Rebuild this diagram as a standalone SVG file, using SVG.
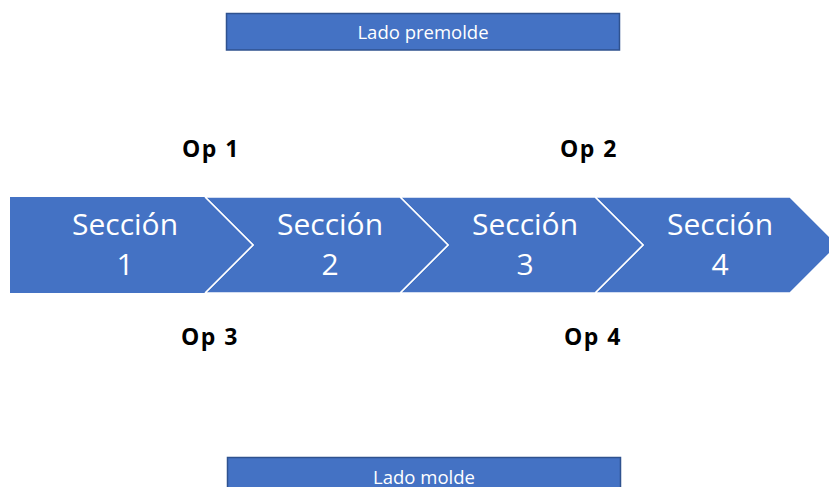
<svg xmlns="http://www.w3.org/2000/svg" width="829" height="487" viewBox="0 0 829 487">
<style>
.box{fill:#4472C4;stroke:#2F528F;stroke-width:1.5}
.chev{fill:#4472C4;stroke:#FFFFFF;stroke-width:1.5}
.lbl{font-family:"Open Sans","Liberation Sans",sans-serif;fill:#FFFFFF;text-anchor:middle}
.sec{font-size:30px}
.side{font-size:18.5px}
.op{font-family:"Open Sans","Liberation Sans",sans-serif;font-weight:bold;font-size:23px;letter-spacing:1.5px;fill:#000000;text-anchor:middle}
</style>
<rect width="829" height="487" fill="#FFFFFF"/>
<g id="top-box">
<rect class="box" x="226.5" y="13.5" width="393" height="36.5"/>
<text class="lbl side" x="423" y="38.5">Lado premolde</text>
</g>
<g id="bottom-box">
<rect class="box" x="227.5" y="457.5" width="393" height="40"/>
<text class="lbl side" x="424" y="483.5">Lado molde</text>
</g>
<g id="sec4">
<polygon class="chev" points="595,197 790,197 838,245 790,293 595,293 643,245"/>
<text class="lbl sec" x="720" y="235">Sección</text>
<text class="lbl sec" x="720" y="275">4</text>
</g>
<g id="sec3">
<polygon class="chev" points="400,197 595,197 643,245 595,293 400,293 448,245"/>
<text class="lbl sec" x="525" y="235">Sección</text>
<text class="lbl sec" x="525" y="275">3</text>
</g>
<g id="sec2">
<polygon class="chev" points="205,197 400,197 448,245 400,293 205,293 253,245"/>
<text class="lbl sec" x="330" y="235">Sección</text>
<text class="lbl sec" x="330" y="275">2</text>
</g>
<g id="sec1">
<polygon class="chev" points="10,197 205,197 253,245 205,293 10,293" style="stroke:none"/>
<polyline points="205,197 253,245 205,293" fill="none" stroke="#FFFFFF" stroke-width="1.5"/>
<text class="lbl sec" x="125" y="235">Sección</text>
<text class="lbl sec" x="125" y="275">1</text>
</g>
<g id="op1"><text class="op" x="211" y="157">Op 1</text></g>
<g id="op2"><text class="op" x="589" y="157">Op 2</text></g>
<g id="op3"><text class="op" x="210" y="345">Op 3</text></g>
<g id="op4"><text class="op" x="593" y="345">Op 4</text></g>
</svg>
